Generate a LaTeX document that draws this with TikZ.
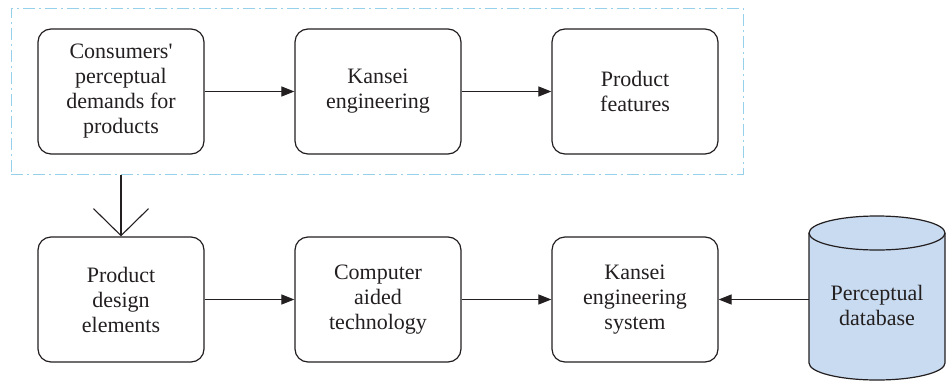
\documentclass[tikz,border=0pt]{standalone}
\usepackage{fontspec}
\setmainfont{Liberation Serif}
\usetikzlibrary{arrows.meta}
\definecolor{ink}{RGB}{35,31,32}
\definecolor{groupline}{RGB}{150,208,235}
\definecolor{dbfill}{RGB}{201,219,240}
\tikzset{
  stage/.style={draw=ink, line width=1.2pt, rounded corners=13pt,
    minimum width=166pt, minimum height=125pt, align=center,
    text=ink, font=\fontsize{22}{25}\selectfont, inner sep=0pt},
  flow/.style={draw=ink, line width=1.1pt,
    -{Triangle[length=13pt,width=10pt]}},
  group/.style={draw=groupline, line width=1pt,
    dash pattern=on 12pt off 4pt on 2pt off 4pt,
    minimum width=732pt, minimum height=166pt, inner sep=0pt},
}
\begin{document}
\begin{tikzpicture}[x=1pt,y=-1pt]
  \useasboundingbox (0,0) rectangle (947,383);

  % dashed group around the upper chain
  \node[group] (grp) at (377,91) {};

  % upper chain
  \node[stage] (b1) at (121,91.5) {Consumers\textquotesingle\\perceptual\\demands for\\products};
  \node[stage] (b2) at (378,91.5) {Kansei\\engineering};
  \node[stage] (b3) at (635,91.5) {Product\\features};

  % lower chain
  \node[stage] (b4) at (121,299.5) {Product\\design\\elements};
  \node[stage] (b5) at (378,299.5) {Computer\\aided\\technology};
  \node[stage] (b6) at (635,299.5) {Kansei\\engineering\\system};

  % database cylinder
  \fill[dbfill] (809,233) -- (809,363) arc[start angle=180,end angle=0,x radius=68,y radius=17]
     -- (945,233) arc[start angle=0,end angle=-180,x radius=68,y radius=17] -- cycle;
  \draw[ink, line width=1.2pt] (809,233) -- (809,363)
     arc[start angle=180,end angle=0,x radius=68,y radius=17] -- (945,233);
  \draw[ink, line width=1.2pt] (877,233) ellipse[x radius=68,y radius=17];
  \node[minimum width=136pt, minimum height=130pt, inner sep=0pt, align=center,
        text=ink, font=\fontsize{22}{25}\selectfont] (db) at (877,305) {Perceptual\\database};

  % connectors
  \draw[flow] (b1.east) -- (b2.west);
  \draw[flow] (b2.east) -- (b3.west);
  \draw[flow] (b4.east) -- (b5.west);
  \draw[flow] (b5.east) -- (b6.west);
  \draw[flow] (db.west |- b6.east) -- (b6.east);
  \draw[draw=ink, line width=1.1pt, -{Straight Barb[length=27pt,width=55pt]}]
    (grp.south -| b4.north) -- (b4.north);
\end{tikzpicture}
\end{document}
